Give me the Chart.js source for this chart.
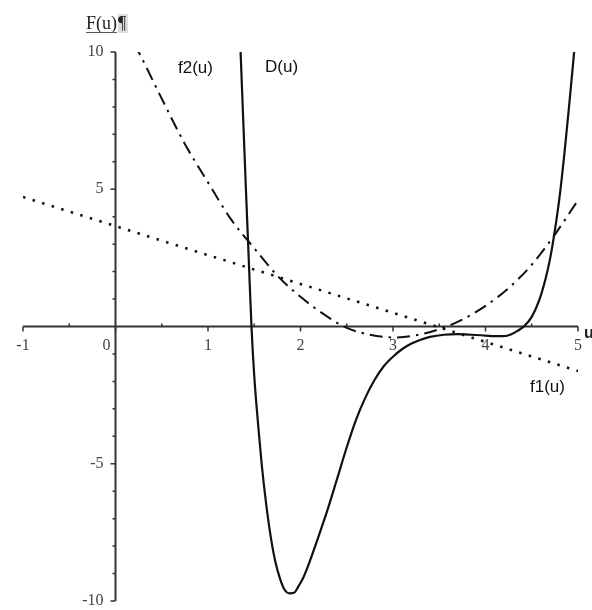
<!DOCTYPE html>
<html>
<head>
<meta charset="utf-8">
<script src="https://cdn.jsdelivr.net/npm/chart.js@4.4.1/dist/chart.umd.min.js"></script>
<style>
  html, body { margin: 0; padding: 0; background: #fff; }
  canvas { display: block; }
</style>
</head>
<body>
<canvas id="plot" width="592" height="610"></canvas>
<script>
// tick labels
const xTickValues = [-1, 0, 1, 2, 3, 4, 5];
const xTickLabels = ["-1", "0", "1", "2", "3", "4", "5"];
const yTickValues = [10, 5, -5, -10];
const yTickLabels = ["10", "5", "-5", "-10"];

// f1(u), dotted straight line
const f1U = [-1, 0, 1, 2, 3, 4, 5];
const f1Vals = [4.72, 3.66, 2.6, 1.55, 0.5, -0.56, -1.62];

// f2(u), dash-dot
const f2U = [0.2, 0.25, 0.5, 0.75, 1, 1.25, 1.5, 1.75, 2, 2.25, 2.5, 2.75, 3, 3.25, 3.5, 3.75, 4, 4.25, 4.5, 4.75, 5];
const f2Vals = [10.3, 10, 8.3, 6.65, 5.25, 3.9, 2.85, 1.85, 1.08, 0.45, -0.05, -0.3, -0.4, -0.32, -0.1, 0.25, 0.75, 1.4, 2.25, 3.35, 4.6];

// D(u), solid
const dU = [1.35, 1.38, 1.41, 1.44, 1.47, 1.5, 1.54, 1.58, 1.63, 1.68, 1.73, 1.78, 1.83, 1.88, 1.93, 1.98, 2.03, 2.08,
            2.2, 2.3, 2.4, 2.5, 2.6, 2.7, 2.8, 2.9, 3.0, 3.1, 3.2, 3.3, 3.4, 3.55, 3.7, 3.85, 4.0, 4.1, 4.2, 4.28, 4.35,
            4.42, 4.5, 4.58, 4.65, 4.7, 4.75, 4.8, 4.85, 4.9, 4.95, 4.98];
const dVals = [10.2, 7.6, 5.0, 2.5, 0, -1.8, -3.5, -5.0, -6.5, -7.7, -8.6, -9.2, -9.6, -9.72, -9.7, -9.45, -9.15, -8.74,
               -7.6, -6.6, -5.5, -4.4, -3.4, -2.6, -1.95, -1.45, -1.1, -0.82, -0.62, -0.48, -0.38, -0.3, -0.28, -0.3, -0.33, -0.35, -0.35, -0.28, -0.15,
               0.02, 0.35, 0.95, 1.75, 2.5, 3.5, 4.7, 6.2, 7.9, 9.7, 10.8];

const toPoints = (xs, ys) => xs.map((x, i) => ({ x: x, y: ys[i] }));

const axisColor = "#333";
const serif = "'Liberation Serif', 'DejaVu Serif', serif";
const sans = "'Liberation Sans', Arial, sans-serif";

const axesPlugin = {
    id: "mapleAxes",
    beforeDatasetsDraw(chart) {
        const ctx = chart.ctx;
        const xs = chart.scales.x;
        const ys = chart.scales.y;
        const x0 = xs.getPixelForValue(0);
        const y0 = ys.getPixelForValue(0);
        ctx.save();
        ctx.strokeStyle = axisColor;
        ctx.lineWidth = 2;
        ctx.beginPath();
        ctx.moveTo(xs.getPixelForValue(-1), y0);
        ctx.lineTo(xs.getPixelForValue(5), y0);
        ctx.moveTo(x0, ys.getPixelForValue(10));
        ctx.lineTo(x0, ys.getPixelForValue(-10));
        ctx.stroke();
        ctx.lineWidth = 1.5;
        ctx.beginPath();
        // x ticks every 0.5
        for (let v = -1; v <= 5; v += 0.5) {
            const px = xs.getPixelForValue(v);
            if (Number.isInteger(v)) {
                ctx.moveTo(px, y0);
                ctx.lineTo(px, y0 + 5);
            } else {
                ctx.moveTo(px, y0);
                ctx.lineTo(px, y0 - 3);
            }
        }
        // y ticks every 1
        for (let v = -10; v <= 10; v += 1) {
            if (v === 0) continue;
            const py = ys.getPixelForValue(v);
            ctx.moveTo(x0, py);
            ctx.lineTo(x0 - (v % 5 === 0 ? 5 : 3), py);
        }
        ctx.stroke();
        ctx.restore();
    },
    afterDraw(chart) {
        const ctx = chart.ctx;
        const xs = chart.scales.x;
        const ys = chart.scales.y;
        const x0 = xs.getPixelForValue(0);
        const y0 = ys.getPixelForValue(0);
        ctx.save();
        ctx.fillStyle = "#444";
        ctx.font = "16px " + serif;
        ctx.textAlign = "center";
        ctx.textBaseline = "middle";
        xTickValues.forEach((v, i) => {
            let px = xs.getPixelForValue(v);
            if (v === 0) px -= 9;
            ctx.fillText(xTickLabels[i], px, y0 + 19);
        });
        ctx.textAlign = "right";
        yTickValues.forEach((v, i) => {
            ctx.fillText(yTickLabels[i], x0 - 12, ys.getPixelForValue(v));
        });

        // axis titles
        ctx.textAlign = "left";
        ctx.textBaseline = "alphabetic";
        ctx.font = "18px " + serif;
        const fw = ctx.measureText("F(u)").width;
        ctx.fillStyle = "#ddd";
        ctx.fillRect(86 + fw + 1, 14, 10, 19);
        ctx.fillStyle = "#222";
        ctx.fillText("F(u)", 86, 29);
        ctx.fillText("\u00b6", 86 + fw + 1, 29);
        ctx.strokeStyle = "#555";
        ctx.lineWidth = 1;
        ctx.beginPath();
        ctx.moveTo(86, 32.5);
        ctx.lineTo(86 + fw, 32.5);
        ctx.stroke();

        ctx.font = "bold 16px " + sans;
        ctx.fillText("u", 584, 338);

        // curve labels
        ctx.font = "17px " + sans;
        ctx.fillStyle = "#111";
        ctx.fillText("f2(u)", 178, 73);
        ctx.fillText("D(u)", 265, 72);
        ctx.fillText("f1(u)", 530, 392);
        ctx.restore();
    }
};

new Chart(document.getElementById("plot"), {
    type: "scatter",
    data: {
        datasets: [
            {
                label: "f1(u)",
                data: toPoints(f1U, f1Vals),
                showLine: true,
                borderColor: "#111",
                borderWidth: 2.5,
                borderDash: [2.5, 7.5],
                pointRadius: 0,
                tension: 0
            },
            {
                label: "f2(u)",
                data: toPoints(f2U, f2Vals),
                showLine: true,
                borderColor: "#111",
                borderWidth: 2,
                borderDash: [13, 6, 2.5, 6],
                pointRadius: 0,
                cubicInterpolationMode: "monotone"
            },
            {
                label: "D(u)",
                data: toPoints(dU, dVals),
                showLine: true,
                borderColor: "#111",
                borderWidth: 2.2,
                pointRadius: 0,
                cubicInterpolationMode: "monotone"
            }
        ]
    },
    options: {
        responsive: false,
        animation: false,
        devicePixelRatio: 1,
        layout: { padding: { left: 23, right: 14, top: 52, bottom: 9 } },
        scales: {
            x: { type: "linear", min: -1, max: 5, display: false },
            y: { type: "linear", min: -10, max: 10, display: false }
        },
        plugins: {
            legend: { display: false },
            tooltip: { enabled: false }
        }
    },
    plugins: [axesPlugin]
});
</script>
</body>
</html>
